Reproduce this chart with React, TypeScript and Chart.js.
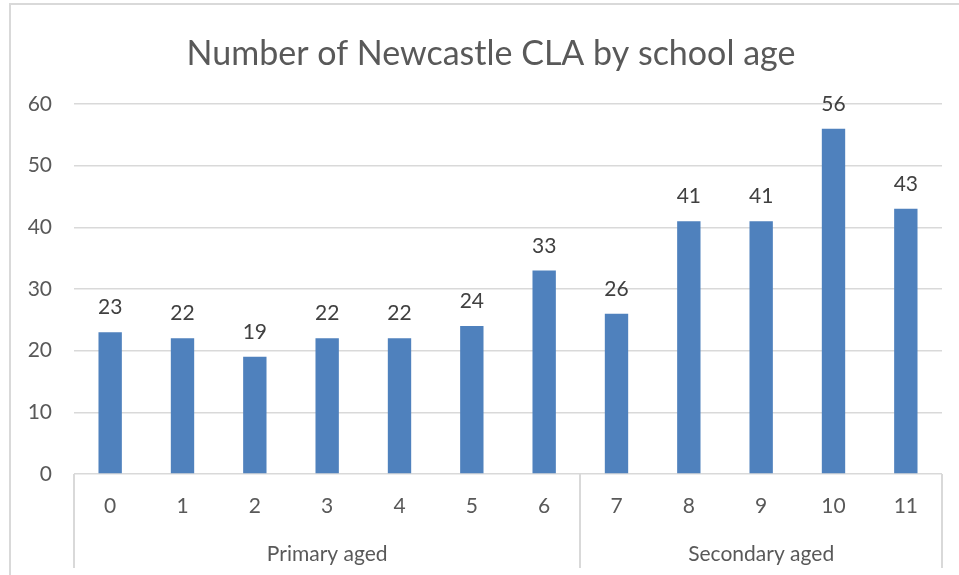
import { useEffect, useRef } from 'react';
import { Chart, registerables } from 'chart.js';

Chart.register(...registerables);

// Children looked after, by school age
const ages = ['0', '1', '2', '3', '4', '5', '6', '7', '8', '9', '10', '11'];
const childrenCount = [23, 22, 19, 22, 22, 24, 33, 26, 41, 41, 56, 43];

// Second level of the category axis
const ageGroups = ['Primary aged', 'Secondary aged'];
const groupFirst = [0, 7];
const groupLast = [6, 11];

const yMin = 0;
const yMax = 60;
const yStep = 10;

const chartTitle = 'Number of Newcastle CLA by school age';

const FONT = 'Lato, "Open Sans", sans-serif';
const AXIS_TEXT = '#595959';
const LABEL_TEXT = '#404040';
const LINE = '#d9d9d9';
const BAR = '#4f81bd';

const framePlugin = {
  id: 'frame',
  beforeDraw(chart: any) {
    const { ctx, width, height } = chart;
    ctx.save();
    ctx.fillStyle = '#ffffff';
    ctx.fillRect(0, 0, width, height);
    ctx.fillStyle = LINE;
    ctx.fillRect(9, 3, width - 9, 2);
    ctx.fillRect(9, 3, 2, height - 3);
    ctx.restore();
  },
};

const titlePlugin = {
  id: 'chartTitle',
  afterDraw(chart: any) {
    const { ctx } = chart;
    ctx.save();
    ctx.font = `34px ${FONT}`;
    ctx.fillStyle = AXIS_TEXT;
    ctx.textAlign = 'center';
    ctx.textBaseline = 'alphabetic';
    ctx.fillText(chartTitle, 491, 65);
    ctx.restore();
  },
};

const valueLabelPlugin = {
  id: 'valueLabels',
  afterDatasetsDraw(chart: any) {
    const { ctx } = chart;
    const meta = chart.getDatasetMeta(0);
    const values = chart.data.datasets[0].data as number[];
    ctx.save();
    ctx.font = `21px ${FONT}`;
    ctx.fillStyle = LABEL_TEXT;
    ctx.textAlign = 'center';
    ctx.textBaseline = 'alphabetic';
    meta.data.forEach((bar: any, i: number) => {
      ctx.fillText(String(values[i]), bar.x, bar.y - 18);
    });
    ctx.restore();
  },
};

const groupAxisPlugin = {
  id: 'groupAxis',
  afterDraw(chart: any) {
    const { ctx, chartArea } = chart;
    const xs = chart.scales.x;
    const step = xs.getPixelForValue(1) - xs.getPixelForValue(0);
    const lineBottom = 568;
    ctx.save();
    ctx.strokeStyle = LINE;
    ctx.lineWidth = 2;
    const edges: number[] = [];
    ageGroups.forEach((_, g) => {
      edges.push(xs.getPixelForValue(groupFirst[g]) - step / 2);
    });
    edges.push(xs.getPixelForValue(groupLast[groupLast.length - 1]) + step / 2);
    edges.forEach((x) => {
      ctx.beginPath();
      ctx.moveTo(Math.round(x), chartArea.bottom);
      ctx.lineTo(Math.round(x), lineBottom);
      ctx.stroke();
    });
    ctx.font = `21px ${FONT}`;
    ctx.fillStyle = AXIS_TEXT;
    ctx.textAlign = 'center';
    ctx.textBaseline = 'alphabetic';
    ageGroups.forEach((label, g) => {
      const left = xs.getPixelForValue(groupFirst[g]) - step / 2;
      const right = xs.getPixelForValue(groupLast[g]) + step / 2;
      ctx.fillText(label, (left + right) / 2, 561);
    });
    ctx.restore();
  },
};

export default function App() {
  const canvasRef = useRef<HTMLCanvasElement | null>(null);

  useEffect(() => {
    if (!canvasRef.current) return;
    const chart = new Chart(canvasRef.current, {
      type: 'bar',
      data: {
        labels: ages,
        datasets: [
          {
            label: 'CLA',
            data: childrenCount,
            backgroundColor: BAR,
            borderWidth: 0,
            categoryPercentage: 1,
            barPercentage: 0.323,
          },
        ],
      },
      options: {
        animation: false,
        responsive: false,
        maintainAspectRatio: false,
        layout: { padding: { top: 104, left: 10, right: 17, bottom: 0 } },
        plugins: {
          legend: { display: false },
          title: { display: false },
          tooltip: { enabled: false },
        },
        scales: {
          x: {
            type: 'category',
            grid: { display: false, drawTicks: false },
            border: { display: false },
            ticks: {
              color: AXIS_TEXT,
              font: { family: FONT, size: 21 },
              padding: 20,
              maxRotation: 0,
              autoSkip: false,
            },
            afterFit(scale: any) {
              scale.height = 101;
            },
          },
          y: {
            min: yMin,
            max: yMax,
            grid: { color: LINE, lineWidth: 1.5, drawTicks: false },
            border: { display: false },
            ticks: {
              stepSize: yStep,
              color: AXIS_TEXT,
              font: { family: FONT, size: 21 },
              padding: 22,
            },
            afterFit(scale: any) {
              scale.width = 64;
            },
          },
        },
      },
      plugins: [framePlugin, titlePlugin, valueLabelPlugin, groupAxisPlugin],
    });
    return () => chart.destroy();
  }, []);

  return (
    <div style={{ position: 'fixed', left: 0, top: 0, width: 959, height: 575 }}>
      <canvas ref={canvasRef} width={959} height={575} />
    </div>
  );
}
